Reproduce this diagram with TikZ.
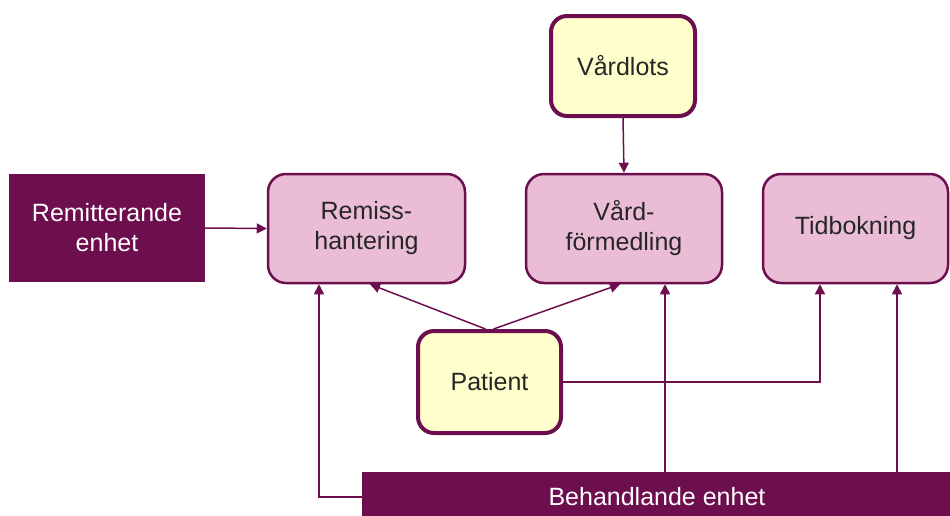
\documentclass[tikz,border=0pt]{standalone}
\usepackage{fontspec}
\setmainfont{Liberation Sans}
\usepackage{tikz}
\usetikzlibrary{arrows.meta, calc}
\definecolor{lila}{HTML}{6D0E4E}
\definecolor{rosa}{HTML}{EBBCD6}
\definecolor{gul}{HTML}{FFFFCC}
\definecolor{textgra}{HTML}{262626}

\begin{document}
\begin{tikzpicture}[x=1pt, y=-1pt,
  enhet/.style={rectangle, fill=lila, text=white, inner sep=0pt, align=center, font=\fontsize{25}{30}\selectfont},
  funktion/.style={rectangle, rounded corners=18pt, draw=lila, line width=2.5pt, fill=rosa, text=textgra, inner sep=0pt, align=center, font=\fontsize{25}{30}\selectfont},
  person/.style={rectangle, rounded corners=16pt, draw=lila, line width=4pt, fill=gul, text=textgra, inner sep=0pt, align=center, font=\fontsize{25}{30}\selectfont},
  pil/.style={draw=lila, line width=1.5pt, -{Triangle[length=10pt, width=10pt]}}]
\clip (0,0) rectangle (950,515);

\node[enhet, minimum width=196pt, minimum height=108pt] (remitt) at (107,228) {Remitterande\\enhet};
\node[funktion, minimum width=197pt, minimum height=109pt] (remiss) at (366.5,228.5) {Remiss-\\hantering};
\node[funktion, minimum width=196pt, minimum height=109pt] (vardf) at (624,228.5) {Vård-\\förmedling};
\node[funktion, minimum width=185pt, minimum height=109pt] (tid) at (855.5,228.5) {Tidbokning};
\node[person, minimum width=144pt, minimum height=100pt] (lots) at (623,66) {Vårdlots};
\node[person, minimum width=143pt, minimum height=102pt] (pat) at (489.5,382) {Patient};
\node[enhet, minimum width=590pt, minimum height=50pt] (behand) at (657,497) {Behandlande enhet};

\draw[pil] (remitt.east) -- (remiss.west);
\draw[pil] (lots.south) -- (vardf.north);
\draw[pil] ([xshift=-4pt]pat.north) -- ([xshift=3.5pt]remiss.south);
\draw[pil] ([xshift=4pt]pat.north) -- ([xshift=-4pt]vardf.south);
\draw[pil] (pat.east) -| ([xshift=-35.5pt]tid.south);
\draw[pil] (behand.west) -| ([xshift=-47.5pt]remiss.south);
\draw[pil] ([xshift=41pt]vardf.south |- behand.north) -- ([xshift=41pt]vardf.south);
\draw[pil] ([xshift=41.5pt]tid.south |- behand.north) -- ([xshift=41.5pt]tid.south);
\end{tikzpicture}
\end{document}
